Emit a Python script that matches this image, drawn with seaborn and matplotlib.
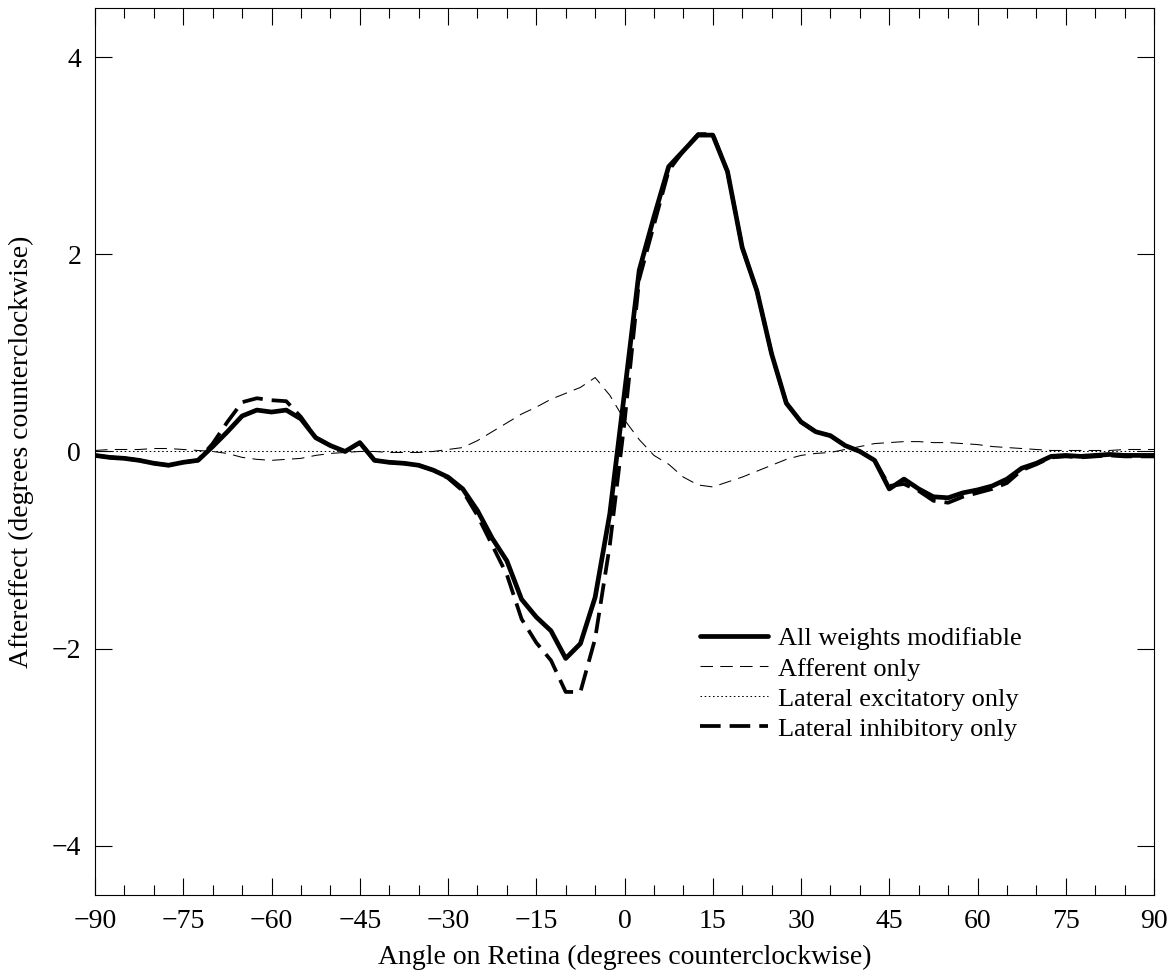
"""Aftereffect vs. angle on retina for four plasticity conditions."""

import matplotlib
matplotlib.use("Agg")
import matplotlib.pyplot as plt
import numpy as np
import pandas as pd
import seaborn as sns
from matplotlib.ticker import MultipleLocator

# angles sampled every 2.5 degrees from -90 to 90
angles = [
    -90, -87.5, -85, -82.5, -80, -77.5, -75, -72.5, -70, -67.5, -65, -62.5,
    -60, -57.5, -55, -52.5, -50, -47.5, -45, -42.5, -40, -37.5, -35, -32.5,
    -30, -27.5, -25, -22.5, -20, -17.5, -15, -12.5, -10, -7.5, -5, -2.5,
    0, 2.5, 5, 7.5, 10, 12.5, 15, 17.5, 20, 22.5, 25, 27.5,
    30, 32.5, 35, 37.5, 40, 42.5, 45, 47.5, 50, 52.5, 55, 57.5,
    60, 62.5, 65, 67.5, 70, 72.5, 75, 77.5, 80, 82.5, 85, 87.5, 90,
]

all_weights = [
    -0.04, -0.06, -0.07, -0.09, -0.12, -0.14, -0.11, -0.09, 0.05, 0.20, 0.36, 0.42,
    0.40, 0.42, 0.33, 0.14, 0.06, 0.00, 0.09, -0.09, -0.11, -0.12, -0.14, -0.19,
    -0.26, -0.38, -0.60, -0.88, -1.11, -1.50, -1.68, -1.82, -2.10, -1.95, -1.48, -0.63,
    0.60, 1.84, 2.38, 2.89, 3.05, 3.21, 3.21, 2.84, 2.07, 1.63, 0.99, 0.49,
    0.30, 0.20, 0.16, 0.06, 0.00, -0.09, -0.38, -0.28, -0.38, -0.46, -0.47, -0.42,
    -0.39, -0.35, -0.28, -0.17, -0.12, -0.05, -0.04, -0.05, -0.04, -0.03, -0.04, -0.04, -0.04,
]

afferent = [
    0.01, 0.02, 0.02, 0.02, 0.03, 0.03, 0.02, 0.01, 0.00, -0.02, -0.06, -0.08,
    -0.09, -0.08, -0.07, -0.04, -0.02, -0.01, 0.00, 0.00, -0.01, -0.01, -0.01, 0.00,
    0.02, 0.04, 0.11, 0.20, 0.29, 0.38, 0.45, 0.53, 0.59, 0.65, 0.75, 0.57,
    0.32, 0.12, -0.04, -0.13, -0.26, -0.34, -0.36, -0.31, -0.26, -0.20, -0.14, -0.08,
    -0.04, -0.02, -0.01, 0.02, 0.05, 0.08, 0.09, 0.10, 0.10, 0.09, 0.09, 0.08,
    0.07, 0.05, 0.04, 0.03, 0.02, 0.01, 0.01, 0.01, 0.01, 0.01, 0.02, 0.02, 0.02,
]

lateral_exc = [
    0.00, 0.00, 0.00, 0.00, 0.00, 0.00, 0.00, 0.00, 0.00, 0.00, 0.00, 0.00,
    0.00, 0.00, 0.00, 0.00, 0.00, 0.00, 0.00, 0.00, 0.00, 0.00, 0.00, 0.00,
    0.00, 0.00, 0.00, 0.00, 0.00, 0.00, 0.00, 0.00, 0.00, 0.00, 0.00, 0.00,
    0.00, 0.00, 0.00, 0.00, 0.00, 0.00, 0.00, 0.00, 0.00, 0.00, 0.00, 0.00,
    0.00, 0.00, 0.00, 0.00, 0.00, 0.00, 0.00, 0.00, 0.00, 0.00, 0.00, 0.00,
    0.00, 0.00, 0.00, 0.00, 0.00, 0.00, 0.00, 0.00, 0.00, 0.00, 0.00, 0.00, 0.00,
]

lateral_inh = [
    -0.04, -0.06, -0.07, -0.09, -0.12, -0.14, -0.11, -0.09, 0.08, 0.30, 0.50, 0.54,
    0.52, 0.51, 0.35, 0.14, 0.06, 0.00, 0.09, -0.09, -0.11, -0.12, -0.14, -0.19,
    -0.27, -0.40, -0.65, -0.95, -1.25, -1.70, -1.94, -2.12, -2.44, -2.44, -1.90, -0.95,
    0.30, 1.75, 2.30, 2.85, 3.05, 3.22, 3.22, 2.84, 2.07, 1.63, 0.99, 0.49,
    0.30, 0.20, 0.16, 0.06, 0.00, -0.09, -0.35, -0.33, -0.40, -0.50, -0.52, -0.46,
    -0.42, -0.38, -0.32, -0.19, -0.13, -0.06, -0.05, -0.06, -0.05, -0.04, -0.05, -0.05, -0.05,
]

labels = [
    "All weights modifiable",
    "Afferent only",
    "Lateral excitatory only",
    "Lateral inhibitory only",
]

sns.set_theme(style="ticks")
plt.rcParams["font.family"] = ["Liberation Serif", "DejaVu Serif"]
plt.rcParams["axes.linewidth"] = 0.8
plt.rcParams["text.color"] = "black"
plt.rcParams["axes.labelcolor"] = "black"

df = pd.DataFrame({
    "angle": angles * 4,
    "aftereffect": all_weights + afferent + lateral_exc + lateral_inh,
    "condition": np.repeat(labels, len(angles)),
})

# (linewidth in pt, dash pattern in units of linewidth)
styles = {
    labels[0]: (3.4, None),
    labels[1]: (0.75, (12, 7)),
    labels[2]: (0.75, (1.5, 2.5)),
    labels[3]: (2.7, (5.5, 2.4)),
}

fig = plt.figure(figsize=(11.69, 9.71), dpi=100)
ax = fig.add_axes([0.0813, 0.0783, 0.9059, 0.9135])

for name in labels:
    lw, dash = styles[name]
    sns.lineplot(data=df[df["condition"] == name], x="angle", y="aftereffect",
                 ax=ax, color="black", linewidth=lw, label=name,
                 sort=False, estimator=None)
    if dash is not None:
        ax.get_lines()[-1].set_dashes(dash)

ax.set_xlim(-90, 90)
ax.set_ylim(-4.5, 4.5)
ax.xaxis.set_major_locator(MultipleLocator(15))
ax.xaxis.set_minor_locator(MultipleLocator(5))
ax.yaxis.set_major_locator(MultipleLocator(2))
ax.tick_params(axis="both", which="both", direction="in", top=True, right=True,
               labelsize=20, colors="black", width=0.8)
ax.tick_params(axis="both", which="major", length=12, pad=10)
ax.tick_params(axis="x", which="minor", length=7)
for sp in ax.spines.values():
    sp.set_visible(True)
    sp.set_color("black")

ax.set_xlabel("Angle on Retina (degrees counterclockwise)", fontsize=20, labelpad=8)
ax.set_ylabel("Aftereffect (degrees counterclockwise)", fontsize=20, labelpad=13)

ax.legend(loc="center left", bbox_to_anchor=(0.571, 0.238), frameon=False,
          fontsize=19, handlelength=2.6, handletextpad=0.38, labelspacing=0.25,
          borderaxespad=0, borderpad=0, labelcolor="black")

fig.savefig("out.png", dpi=100)
